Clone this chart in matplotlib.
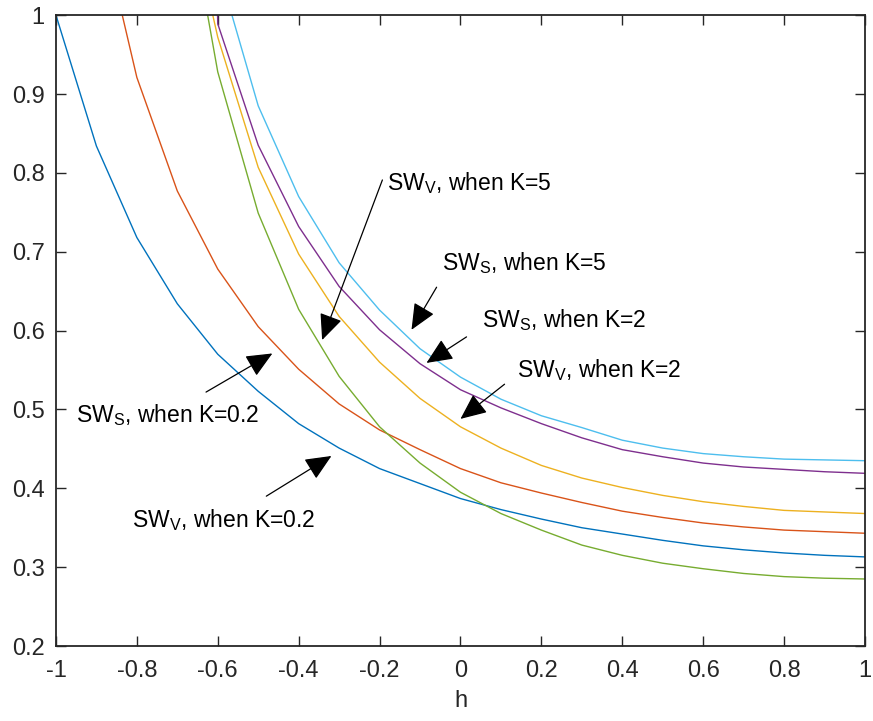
import matplotlib
matplotlib.use("Agg")
import matplotlib.pyplot as plt

plt.rcParams['font.family'] = ['Liberation Sans', 'DejaVu Sans']
plt.rcParams['axes.unicode_minus'] = False
plt.rcParams['mathtext.fontset'] = 'custom'
plt.rcParams['mathtext.rm'] = 'Liberation Sans'

h = [-1.0, -0.9, -0.8, -0.7, -0.6, -0.5, -0.4, -0.3, -0.2, -0.1, 0.0,
     0.1, 0.2, 0.3, 0.4, 0.5, 0.6, 0.7, 0.8, 0.9, 1.0]

sw_v_k02 = [1.0, 0.834, 0.718, 0.634, 0.570, 0.523, 0.482, 0.451, 0.425, 0.406, 0.387,
            0.373, 0.361, 0.350, 0.342, 0.334, 0.327, 0.322, 0.318, 0.315, 0.313]
sw_s_k02 = [1.75, 1.14, 0.921, 0.777, 0.678, 0.605, 0.551, 0.507, 0.474, 0.449, 0.425,
            0.407, 0.394, 0.382, 0.371, 0.363, 0.356, 0.351, 0.347, 0.345, 0.343]
sw_v_k2 = [3.0, 2.2, 1.6, 1.2, 0.972, 0.807, 0.697, 0.618, 0.560, 0.514, 0.478,
           0.451, 0.429, 0.413, 0.401, 0.391, 0.383, 0.377, 0.372, 0.370, 0.368]
sw_s_k2 = [5.0, 4.0, 3.5, 3.0, 0.989, 0.835, 0.732, 0.656, 0.601, 0.558, 0.525,
           0.502, 0.482, 0.464, 0.449, 0.440, 0.432, 0.427, 0.424, 0.421, 0.419]
sw_v_k5 = [3.0, 2.2, 1.6, 1.216, 0.928, 0.749, 0.627, 0.542, 0.478, 0.432, 0.395,
           0.368, 0.347, 0.328, 0.315, 0.305, 0.298, 0.292, 0.288, 0.286, 0.285]
sw_s_k5 = [4.0, 3.0, 2.0, 1.5, 1.062, 0.885, 0.770, 0.686, 0.626, 0.577, 0.541,
           0.513, 0.492, 0.477, 0.461, 0.451, 0.444, 0.440, 0.437, 0.436, 0.435]

series = [sw_v_k02, sw_s_k02, sw_v_k2, sw_s_k2, sw_v_k5, sw_s_k5]
colors = ['#0072BD', '#D95319', '#EDB120', '#7E2F8E', '#77AC30', '#4DBEEE']

x_ticks = [-1, -0.8, -0.6, -0.4, -0.2, 0, 0.2, 0.4, 0.6, 0.8, 1]
x_tick_labels = ['-1', '-0.8', '-0.6', '-0.4', '-0.2', '0', '0.2', '0.4', '0.6', '0.8', '1']
y_ticks = [0.2, 0.3, 0.4, 0.5, 0.6, 0.7, 0.8, 0.9, 1.0]
y_tick_labels = ['0.2', '0.3', '0.4', '0.5', '0.6', '0.7', '0.8', '0.9', '1']

# annotation: text, text position, arrow tail, arrow head
labels = [r'$\mathregular{SW_V}$, when K=5', r'$\mathregular{SW_S}$, when K=5',
          r'$\mathregular{SW_S}$, when K=2', r'$\mathregular{SW_V}$, when K=2',
          r'$\mathregular{SW_S}$, when K=0.2', r'$\mathregular{SW_V}$, when K=0.2']
text_pos = [(-0.181, 0.787), (-0.045, 0.686), (0.054, 0.613), (0.139, 0.550),
            (-0.950, 0.493), (-0.812, 0.360)]
arrow_tail = [(-0.193, 0.791), (-0.059, 0.655), (0.015, 0.592), (0.109, 0.532),
              (-0.629, 0.522), (-0.480, 0.390)]
arrow_head = [(-0.342, 0.588), (-0.121, 0.601), (-0.084, 0.559), (0.0, 0.488),
              (-0.465, 0.571), (-0.319, 0.441)]

fig = plt.figure(figsize=(8.73, 7.21), dpi=100)
ax = fig.add_axes([0.0641, 0.104, 0.9267, 0.875])

for ys, c in zip(series, colors):
    ax.plot(h, ys, color=c, lw=1.0)

ax.set_xlim(-1, 1)
ax.set_ylim(0.2, 1)
ax.set_xticks(x_ticks)
ax.set_xticklabels(x_tick_labels)
ax.set_yticks(y_ticks)
ax.set_yticklabels(y_tick_labels)
ax.tick_params(direction='in', length=7, width=1, colors='#262626',
               labelsize=17, top=True, right=True)
ax.tick_params(axis='x', pad=10)
ax.tick_params(axis='y', pad=8)
for s in ax.spines.values():
    s.set_color('#262626')
    s.set_linewidth(1.3)
ax.set_xlabel('h', fontsize=17, color='#262626', labelpad=6)

for lab, tp in zip(labels, text_pos):
    ax.text(tp[0], tp[1], lab, fontsize=16.5, ha='left', va='center', color='black')
for t, hd in zip(arrow_tail, arrow_head):
    ax.annotate('', xy=hd, xytext=t,
                arrowprops=dict(arrowstyle='-|>,head_length=0.9,head_width=0.4',
                                color='black', lw=0.9, shrinkA=0, shrinkB=0,
                                mutation_scale=18))

fig.savefig('out.png', dpi=100)
